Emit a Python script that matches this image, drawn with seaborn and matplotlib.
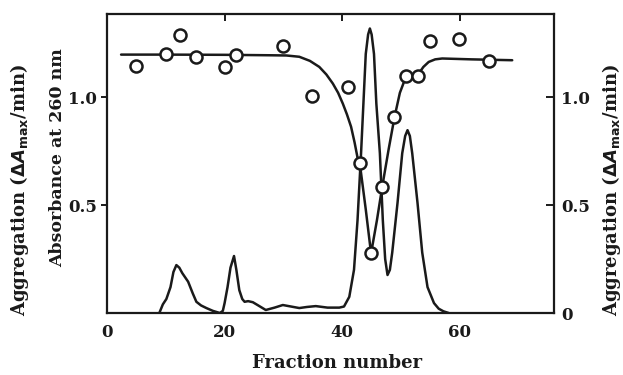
import matplotlib
matplotlib.use("Agg")
import matplotlib.pyplot as plt
import seaborn as sns
import pandas as pd

# Absorbance at 260 nm (elution profile)
abs_x = [8.9, 9.5, 10.1, 10.8, 11.3, 11.8, 12.3, 12.8, 13.8, 14.6, 15.2, 16.0, 16.9, 18.0, 19.2, 19.7, 20.0, 20.5, 21.0, 21.6, 22.0, 22.5, 23.0, 23.4, 24.0, 24.8, 25.6, 27.0, 28.5, 29.9, 31.3, 32.7, 34.0, 35.5, 37.5, 39.5, 40.3, 41.2, 42.0, 42.6, 43.2, 43.6, 44.0, 44.4, 44.7, 45.0, 45.4, 45.8, 46.4, 46.9, 47.3, 47.7, 48.1, 48.5, 49.4, 50.2, 50.7, 51.1, 51.5, 51.9, 52.8, 53.6, 54.5, 55.6, 56.4, 57.2, 58.1]
abs_y = [0.0, 0.04, 0.065, 0.12, 0.19, 0.222, 0.21, 0.185, 0.145, 0.09, 0.052, 0.035, 0.023, 0.01, 0.0, 0.01, 0.046, 0.12, 0.21, 0.264, 0.20, 0.106, 0.065, 0.052, 0.055, 0.05, 0.037, 0.014, 0.025, 0.037, 0.03, 0.023, 0.028, 0.032, 0.025, 0.025, 0.03, 0.075, 0.20, 0.43, 0.74, 0.97, 1.20, 1.29, 1.318, 1.29, 1.20, 0.97, 0.74, 0.43, 0.25, 0.176, 0.20, 0.28, 0.51, 0.74, 0.82, 0.847, 0.82, 0.74, 0.51, 0.28, 0.12, 0.046, 0.02, 0.008, 0.0]

# Aggregation (measured points)
agg_x = [5.0, 10.1, 12.5, 15.1, 20.0, 22.0, 30.0, 34.9, 40.9, 43.0, 44.9, 46.8, 48.8, 50.9, 52.9, 55.0, 59.8, 64.9]
agg_y = [1.145, 1.20, 1.287, 1.184, 1.14, 1.194, 1.238, 1.005, 1.045, 0.696, 0.276, 0.585, 0.909, 1.097, 1.097, 1.259, 1.268, 1.167]

# Aggregation (drawn curve)
fit_x = [2.4, 10.0, 20.0, 27.6, 30.5, 32.7, 34.5, 36.1, 37.3, 38.4, 39.3, 40.1, 40.8, 41.5, 42.1, 42.6, 43.0, 44.0, 44.9, 45.9, 46.8, 47.9, 48.9, 49.8, 50.7, 51.8, 52.9, 53.8, 54.7, 55.8, 57.0, 62.0, 68.9]
fit_y = [1.197, 1.197, 1.196, 1.194, 1.193, 1.187, 1.168, 1.14, 1.105, 1.063, 1.02, 0.97, 0.92, 0.863, 0.79, 0.72, 0.69, 0.48, 0.276, 0.43, 0.585, 0.76, 0.909, 1.02, 1.085, 1.10, 1.105, 1.14, 1.163, 1.175, 1.179, 1.175, 1.171]

x_ticks = [0, 20, 40, 60]
left_ticks = [0.5, 1.0]
right_ticks = [0, 0.5, 1.0]

sns.set_style("white")
plt.rcParams["font.family"] = ["DejaVu Serif"]
plt.rcParams["font.weight"] = "bold"

fig = plt.figure(figsize=(6.23, 3.75), dpi=100)
ax = fig.add_axes([0.1717, 0.1653, 0.7175, 0.7973])

ink = "#1a1a1a"
df_abs = pd.DataFrame({"x": abs_x, "y": abs_y})
df_fit = pd.DataFrame({"x": fit_x, "y": fit_y})
df_agg = pd.DataFrame({"x": agg_x, "y": agg_y})

sns.lineplot(data=df_abs, x="x", y="y", ax=ax, color=ink, lw=1.8, sort=False, estimator=None)
sns.lineplot(data=df_fit, x="x", y="y", ax=ax, color=ink, lw=1.8, sort=False, estimator=None)
sns.scatterplot(data=df_agg, x="x", y="y", ax=ax, s=75, facecolor="white",
                edgecolor=ink, linewidth=1.8, zorder=5)

ax.set_xlim(0, 76)
ax.set_ylim(0, 1.385)
ax.set_xticks(x_ticks)
ax.set_xticklabels([str(t) for t in x_ticks])
ax.set_yticks(left_ticks)
ax.set_yticklabels(["0.5", "1.0"])
ax.set_xlabel("")
ax.set_ylabel("")
for s in ax.spines.values():
    s.set_linewidth(1.6)
    s.set_color(ink)
ax.tick_params(axis="x", which="both", bottom=False, top=True, direction="in",
               length=5, width=1.4, labelsize=12, pad=8, colors=ink)
ax.tick_params(axis="y", left=True, direction="out", length=4, width=1.4,
               labelsize=12, pad=3, colors=ink)

ax2 = ax.twinx()
ax2.set_ylim(0, 1.385)
ax2.set_yticks(right_ticks)
ax2.set_yticklabels(["0", "0.5", "1.0"])
ax2.tick_params(axis="y", direction="in", length=6, width=1.4, labelsize=12, pad=5, colors=ink)
for s in ax2.spines.values():
    s.set_visible(False)

fig.text(0.541, 0.032, "Fraction number", ha="center", va="center", fontsize=13, fontweight="bold", color=ink)
fig.text(0.092, 0.58, "Absorbance at 260 nm", rotation=90, ha="center", va="center", fontsize=12.5, fontweight="bold", color=ink)
fig.text(0.032, 0.493, r"Aggregation ($\Delta A_{\mathbf{max}}$/min)", rotation=90, ha="center", va="center", fontsize=13, fontweight="bold", color=ink)
fig.text(0.981, 0.493, r"Aggregation ($\Delta A_{\mathbf{max}}$/min)", rotation=90, ha="center", va="center", fontsize=13, fontweight="bold", color=ink)

fig.savefig("out.png", dpi=100)
